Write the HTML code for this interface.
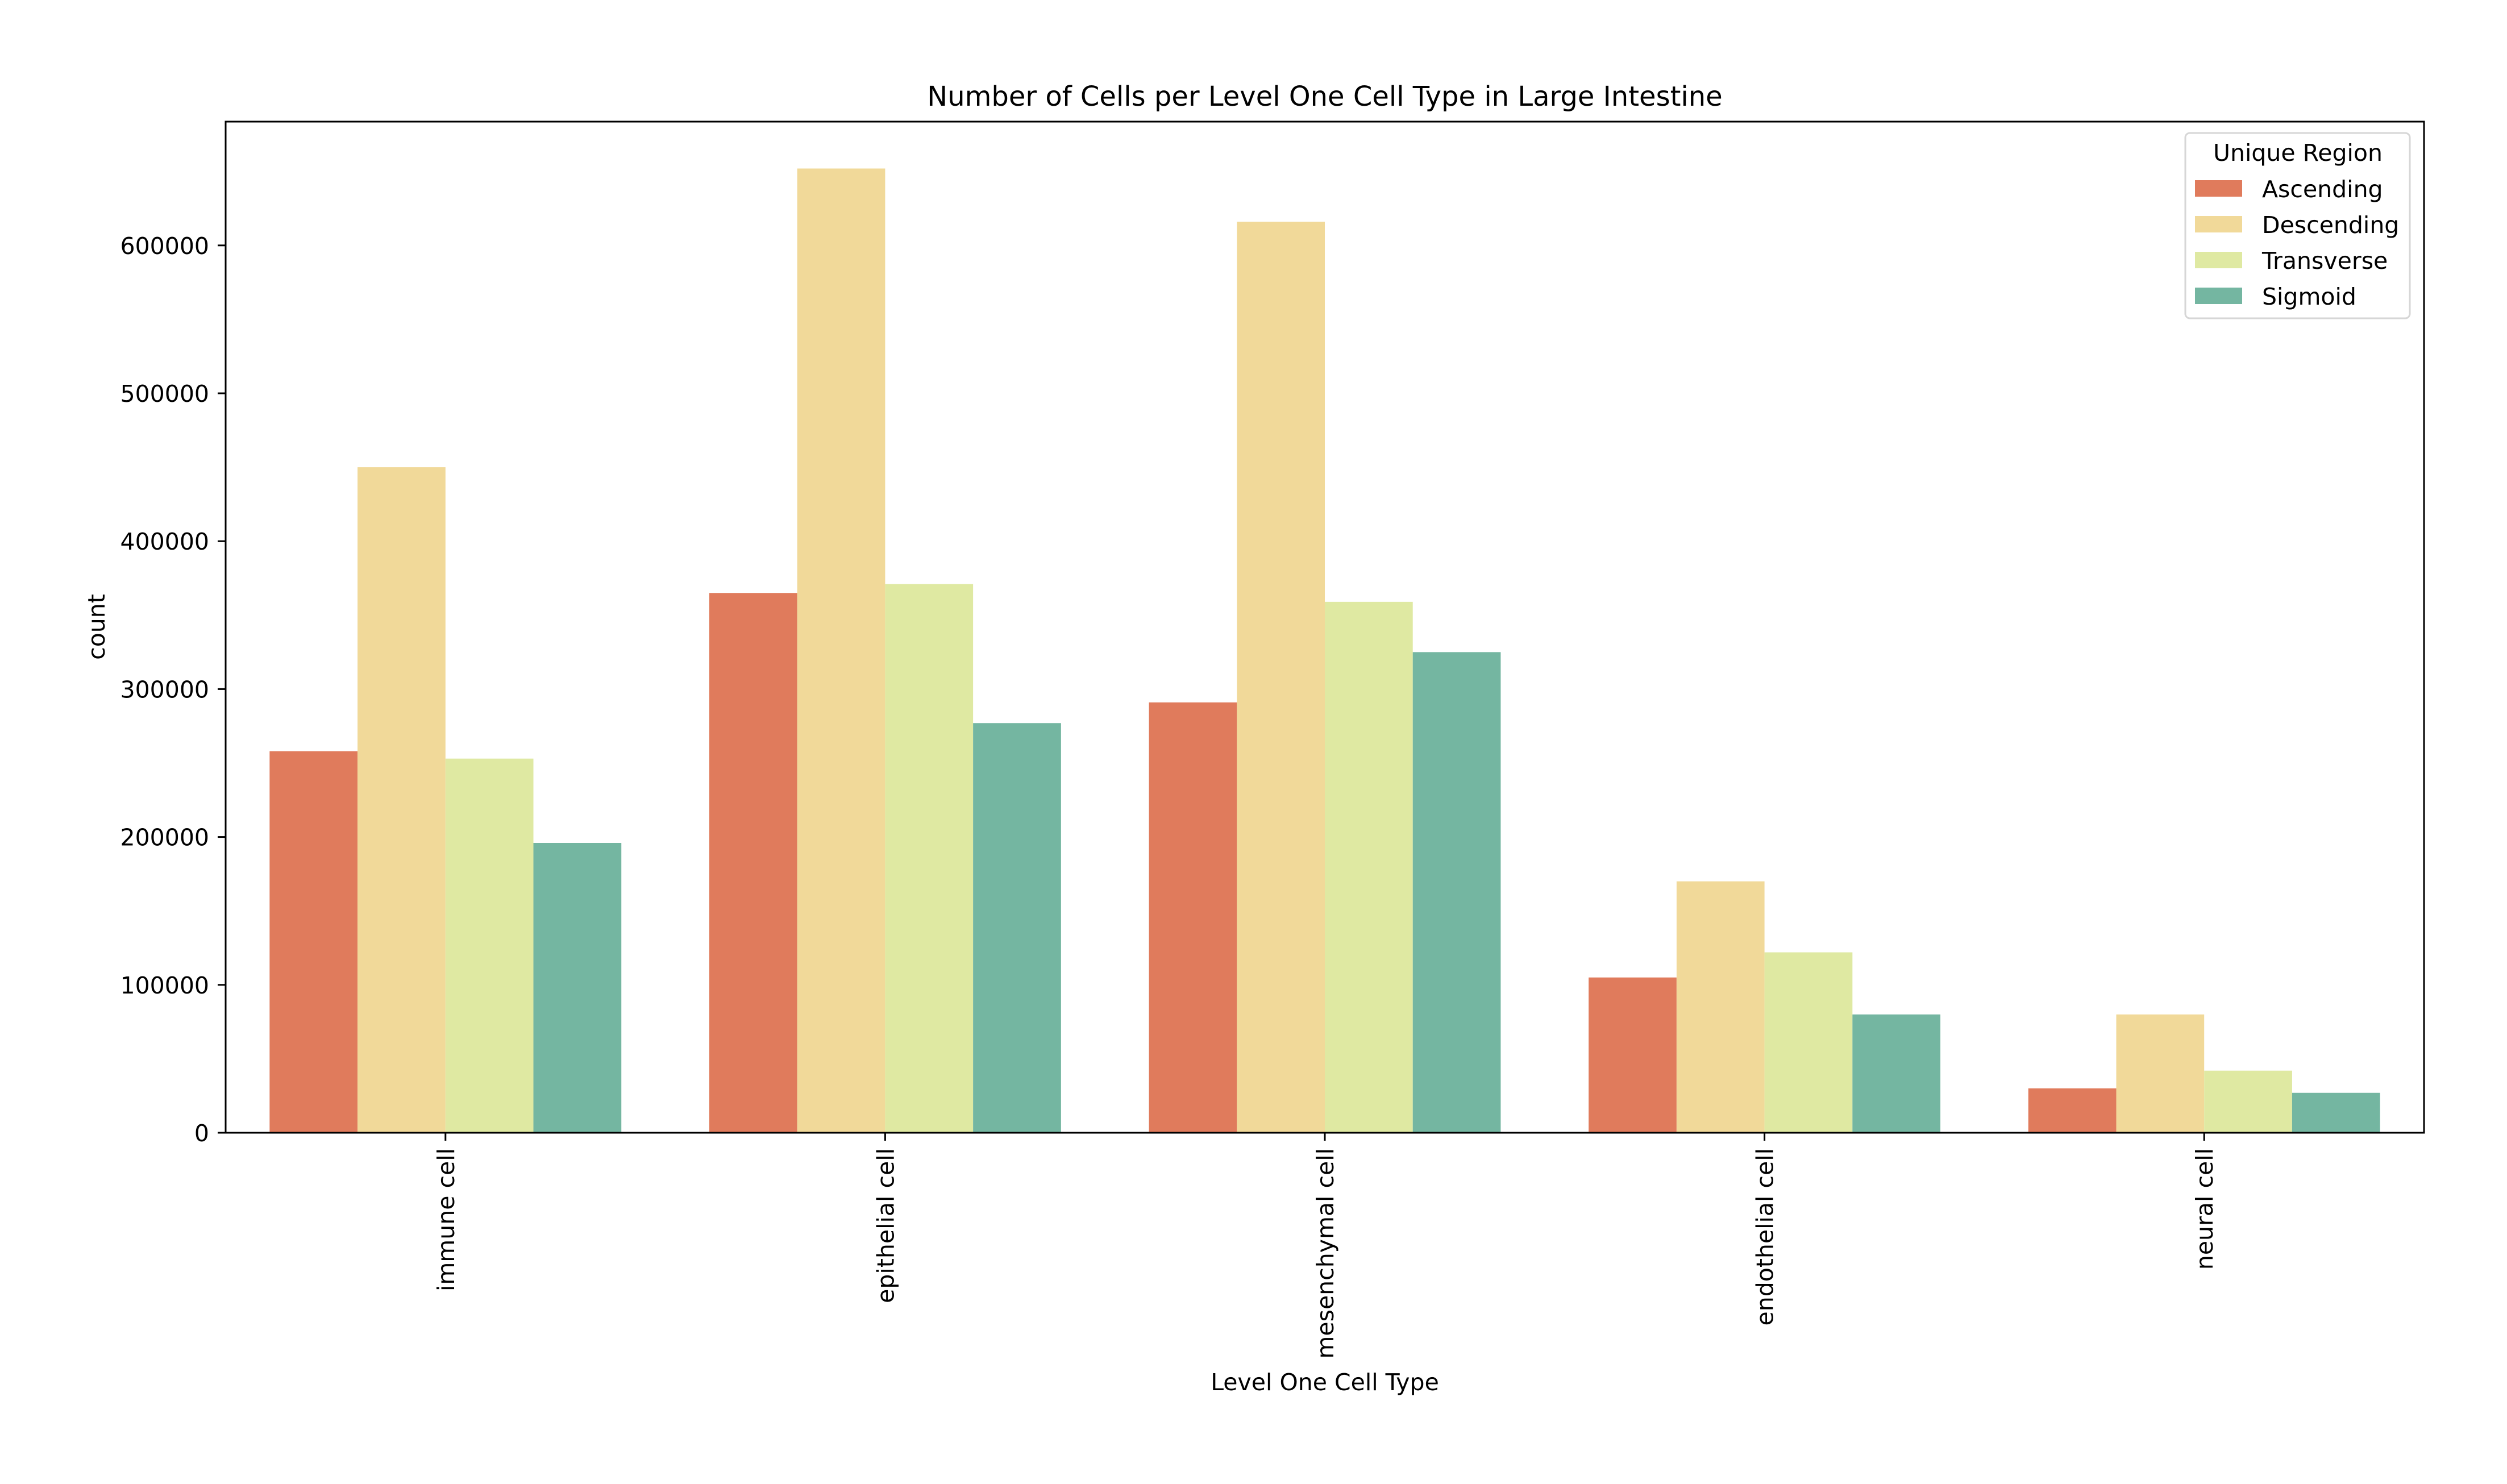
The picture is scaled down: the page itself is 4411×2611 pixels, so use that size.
<!DOCTYPE html>
<html><head><meta charset="utf-8"><style>
html,body{margin:0;padding:0;background:#fff;}
svg text{font-family:"DejaVu Sans","Liberation Sans",sans-serif;fill:#000;}
</style></head><body>
<svg id="chart" width="4411" height="2606" xmlns="http://www.w3.org/2000/svg">
<rect width="4411" height="2606" fill="#fff"/>
<g id="bars"></g>
<g id="axes"></g>
<text x="2331" y="186" font-size="48" text-anchor="middle">Number of Cells per Level One Cell Type in Large Intestine</text>
<text x="2331" y="2446" font-size="41" text-anchor="middle">Level One Cell Type</text>
<text x="0" y="0" font-size="41" text-anchor="middle" transform="translate(184,1103) rotate(-90)">count</text>
<g id="legend"></g>
</svg>
<script>
const categories = ["immune cell","epithelial cell","mesenchymal cell","endothelial cell","neural cell"];
const seriesNames = ["Ascending","Descending","Transverse","Sigmoid"];
const ascending = [258000,365000,291000,105000,30000];
const descending = [450000,652000,616000,170000,80000];
const transverse = [253000,371000,359000,122000,42000];
const sigmoid = [196000,277000,325000,80000,27000];
const yTicks = [0,100000,200000,300000,400000,500000,600000];
const colors = ["#e07b5c","#f1d999","#dfe9a2","#74b6a1"];
const series = [ascending,descending,transverse,sigmoid];

const NS="http://www.w3.org/2000/svg";
const L=397,R=4265,T=214,B=1993,YMAX=683700;
const bandW=(R-L)/categories.length;
const x=i=>L+bandW*(i+0.5);
const y=v=>B-(B-T)*v/YMAX;
function mk(tag,parent){const e=document.createElementNS(NS,tag);parent.appendChild(e);return e;}
const gb=document.getElementById('bars'),ga=document.getElementById('axes'),gl=document.getElementById('legend');
const bw=bandW*0.8/4;
series.forEach((s,si)=>{s.forEach((v,ci)=>{
  const r=mk('rect',gb);
  
  
  const x0=x(ci)-bandW*0.4+bw*si;
  r.setAttribute('x',x0);r.setAttribute('width',bw);
  r.setAttribute('y',y(v));r.setAttribute('height',B-y(v));
  r.setAttribute('fill',colors[si]);
});});
const fr=mk('rect',ga);


fr.setAttribute('x',L);fr.setAttribute('y',T);fr.setAttribute('width',R-L);fr.setAttribute('height',B-T);
fr.setAttribute('fill','none');fr.setAttribute('stroke','#000');fr.setAttribute('stroke-width','3');
yTicks.forEach(t=>{
  const ln=mk('line',ga);
  
  
  ln.setAttribute('x1',L-14);ln.setAttribute('x2',L);ln.setAttribute('y1',y(t));ln.setAttribute('y2',y(t));
  ln.setAttribute('stroke','#000');ln.setAttribute('stroke-width','3');
  const tx=mk('text',ga);
  
  
  tx.setAttribute('x',L-29);tx.setAttribute('y',y(t)+15);tx.setAttribute('font-size','41');tx.setAttribute('text-anchor','end');
  tx.textContent=String(t);
});
categories.forEach((c,i)=>{
  const ln=mk('line',ga);
  
  
  ln.setAttribute('x1',x(i));ln.setAttribute('x2',x(i));ln.setAttribute('y1',B);ln.setAttribute('y2',B+14);
  ln.setAttribute('stroke','#000');ln.setAttribute('stroke-width','3');
  const tx=mk('text',ga);
  
  
  tx.setAttribute('font-size','41');tx.setAttribute('text-anchor','end');
  tx.setAttribute('transform','translate('+(x(i)+15)+','+(B+27)+') rotate(-90)');
  tx.textContent=c;
});
const lb=mk('rect',gl);


lb.setAttribute('x',3845);lb.setAttribute('y',234);lb.setAttribute('width',395);lb.setAttribute('height',326);lb.setAttribute('rx',8);
lb.setAttribute('fill','#fff');lb.setAttribute('stroke','#d6d6d6');lb.setAttribute('stroke-width','3');
const lt=mk('text',gl);


lt.setAttribute('x',4043);lt.setAttribute('y',283);lt.setAttribute('font-size','41');lt.setAttribute('text-anchor','middle');
lt.textContent='Unique Region';
seriesNames.forEach((n,i)=>{
  const yy=317+i*63;
  const p=mk('rect',gl);
  
  
  p.setAttribute('x',3862);p.setAttribute('y',yy);p.setAttribute('width',83);p.setAttribute('height',29);p.setAttribute('fill',colors[i]);
  const t=mk('text',gl);
  
  
  t.setAttribute('x',3980);t.setAttribute('y',yy+30);t.setAttribute('font-size','41');
  t.textContent=n;
});
</script>
</body></html>
